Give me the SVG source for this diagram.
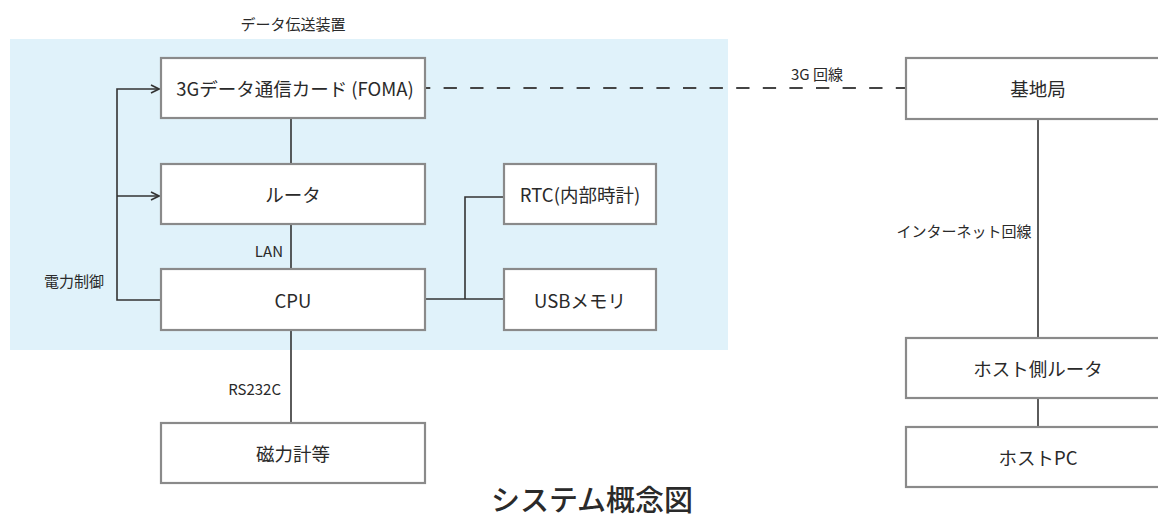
<svg xmlns="http://www.w3.org/2000/svg" width="1158" height="518" viewBox="0 0 1158 518">
  <style>
    .box { fill: #ffffff; stroke: #8a8a8a; stroke-width: 2.2; }
    .t { font-family: "Noto Sans CJK JP", "Noto Sans", sans-serif; fill: #2a2a2a; }
    .node { font-size: 18.5px; text-anchor: middle; dominant-baseline: central; }
    .lbl { font-size: 15px; dominant-baseline: central; }
    .ln { fill: none; stroke: #333333; stroke-width: 1.6; }
    .dash { fill: none; stroke: #444444; stroke-width: 1.8; stroke-dasharray: 13.3 13.3; stroke-dashoffset: 8; }
  </style>
  <defs>
    <marker id="arr" viewBox="0 0 10 10" refX="9" refY="5" markerWidth="10" markerHeight="10" markerUnits="userSpaceOnUse" orient="auto">
      <path d="M1,1 L9,5 L1,9" fill="none" stroke="#333333" stroke-width="1.6"/>
    </marker>
  </defs>
  <rect width="1158" height="518" fill="#ffffff"/>
  <rect id="device-area" x="10" y="39" width="718" height="311" fill="#e0f2fa"/>
  <text class="t lbl" x="293" y="23" text-anchor="middle">データ伝送装置</text>

  <g id="connectors">
    <line class="ln" x1="291" y1="118" x2="291" y2="164"/>
    <line class="ln" x1="291" y1="224" x2="291" y2="269"/>
    <line class="ln" x1="291" y1="330" x2="291" y2="423"/>
    <polyline class="ln" points="161,300 117,300 117,89 159,89" marker-end="url(#arr)"/>
    <line class="ln" x1="117" y1="196" x2="159" y2="196" marker-end="url(#arr)"/>
    <polyline class="ln" points="425,299 504,299"/>
    <polyline class="ln" points="465,299 465,197 504,197"/>
    <line class="dash" x1="425" y1="88" x2="906" y2="88"/>
    <line class="ln" x1="1038" y1="119" x2="1038" y2="338"/>
    <line class="ln" x1="1038" y1="398" x2="1038" y2="427"/>
    <text class="t lbl" x="283" y="250" text-anchor="end">LAN</text>
    <text class="t lbl" x="281" y="388" text-anchor="end">RS232C</text>
    <text class="t lbl" x="74" y="280" text-anchor="middle">電力制御</text>
    <text class="t lbl" x="817" y="73" text-anchor="middle">3G 回線</text>
    <text class="t lbl" x="964" y="230" text-anchor="middle">インターネット回線</text>
  </g>

  <g id="card3g">
    <rect class="box" x="161" y="58" width="264" height="60"/>
    <text class="t node" x="295" y="88">3Gデータ通信カード (FOMA)</text>
  </g>
  <g id="router">
    <rect class="box" x="161" y="164" width="264" height="60"/>
    <text class="t node" x="293" y="194">ルータ</text>
  </g>
  <g id="cpu">
    <rect class="box" x="161" y="269" width="264" height="61"/>
    <text class="t node" x="293" y="300">CPU</text>
  </g>
  <g id="rtc">
    <rect class="box" x="504" y="164" width="152" height="60"/>
    <text class="t node" x="580" y="194">RTC(内部時計)</text>
  </g>
  <g id="usb">
    <rect class="box" x="504" y="269" width="152" height="61"/>
    <text class="t node" x="580" y="300">USBメモリ</text>
  </g>
  <g id="magnetometer">
    <rect class="box" x="161" y="423" width="264" height="60"/>
    <text class="t node" x="293" y="453">磁力計等</text>
  </g>
  <g id="basestation">
    <rect class="box" x="906" y="58" width="264" height="61"/>
    <text class="t node" x="1038" y="88">基地局</text>
  </g>
  <g id="hostrouter">
    <rect class="box" x="906" y="338" width="264" height="60"/>
    <text class="t node" x="1038" y="368">ホスト側ルータ</text>
  </g>
  <g id="hostpc">
    <rect class="box" x="906" y="427" width="264" height="60"/>
    <text class="t node" x="1038" y="457">ホストPC</text>
  </g>

  <text class="t" x="592" y="498" font-size="29" font-weight="500" text-anchor="middle" dominant-baseline="central">システム概念図</text>
</svg>
